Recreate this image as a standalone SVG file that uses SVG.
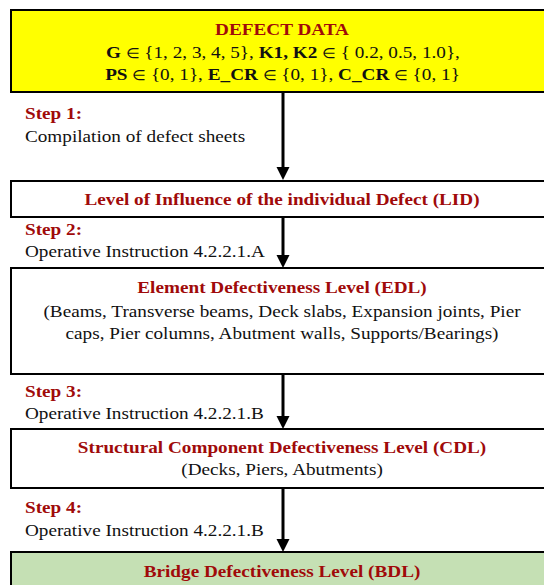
<svg xmlns="http://www.w3.org/2000/svg" width="544" height="585" viewBox="0 0 544 585">
<defs>
<style>
.box{stroke:#000;stroke-width:2}
.t{font-family:"Liberation Serif","Times New Roman",serif;font-size:17px;fill:#111}
.r{fill:#A00A0A;font-weight:bold}
.c{text-anchor:middle}
.b{font-weight:bold}
.e{font-size:14px}
.conn{stroke:#000;stroke-width:3;fill:none}
.head{fill:#000}
</style>
</defs>
<rect width="544" height="585" fill="#fff"/>

<g id="connectors">
<line class="conn" x1="283" y1="92" x2="283" y2="168"/>
<path class="head" d="M276.5,167 L289.5,167 L283,180 Z"/>
<line class="conn" x1="283" y1="217" x2="283" y2="256"/>
<path class="head" d="M276.5,255 L289.5,255 L283,268 Z"/>
<line class="conn" x1="283" y1="374" x2="283" y2="417"/>
<path class="head" d="M276.5,416 L289.5,416 L283,429 Z"/>
<line class="conn" x1="283" y1="488" x2="283" y2="540"/>
<path class="head" d="M276.5,539 L289.5,539 L283,552 Z"/>
</g>

<g id="defect-data">
<rect class="box" x="11" y="10" width="550" height="82" fill="#FFFF00"/>
<g transform="scale(1.13 1)">
<text class="t r c" x="249.6" y="35">DEFECT DATA</text>
<text class="t c" x="250.4" y="58"><tspan class="b">G</tspan>  <tspan class="e">∈</tspan> {1, 2, 3, 4, 5}, <tspan class="b">K1, K2</tspan> <tspan class="e">∈</tspan> { 0.2, 0.5, 1.0},</text>
<text class="t c" x="250" y="80"><tspan class="b">PS</tspan> <tspan class="e">∈</tspan> {0, 1}, <tspan class="b">E_CR</tspan> <tspan class="e">∈</tspan> {0, 1}, <tspan class="b">C_CR</tspan> <tspan class="e">∈</tspan> {0, 1}</text>
</g>
</g>

<g id="step1">
<g transform="scale(1.13 1)">
<text class="t r" x="22.1" y="119">Step 1:</text>
<text class="t" x="22.1" y="142">Compilation of defect sheets</text>
</g>
</g>

<g id="lid">
<rect class="box" x="11" y="181" width="550" height="36" fill="#fff"/>
<g transform="scale(1.13 1)">
<text class="t r c" x="249.6" y="205">Level of Influence of the individual  Defect (LID)</text>
</g>
</g>

<g id="step2">
<g transform="scale(1.13 1)">
<text class="t r" x="22.1" y="235">Step 2:</text>
<text class="t" x="22.1" y="257">Operative Instruction 4.2.2.1.A</text>
</g>
</g>

<g id="edl">
<rect class="box" x="11" y="268" width="550" height="106" fill="#fff"/>
<g transform="scale(1.13 1)">
<text class="t r c" x="249.6" y="293">Element Defectiveness Level (EDL)</text>
<text class="t c" x="249.6" y="317">(Beams, Transverse beams, Deck slabs, Expansion joints, Pier</text>
<text class="t c" x="249.6" y="339">caps, Pier columns, Abutment walls, Supports/Bearings)</text>
</g>
</g>

<g id="step3">
<g transform="scale(1.13 1)">
<text class="t r" x="22.1" y="397">Step 3:</text>
<text class="t" x="22.1" y="419">Operative Instruction 4.2.2.1.B</text>
</g>
</g>

<g id="cdl">
<rect class="box" x="11" y="429" width="550" height="59" fill="#fff"/>
<g transform="scale(1.13 1)">
<text class="t r c" x="249.6" y="453">Structural  Component Defectiveness Level (CDL)</text>
<text class="t c" x="249.6" y="475">(Decks, Piers, Abutments)</text>
</g>
</g>

<g id="step4">
<g transform="scale(1.13 1)">
<text class="t r" x="22.1" y="513">Step 4:</text>
<text class="t" x="22.1" y="536">Operative Instruction 4.2.2.1.B</text>
</g>
</g>

<g id="bdl">
<rect class="box" x="11" y="552" width="550" height="50" fill="#C5E0B4"/>
<g transform="scale(1.13 1)">
<text class="t r c" x="249.6" y="577">Bridge Defectiveness Level (BDL)</text>
</g>
</g>
</svg>
